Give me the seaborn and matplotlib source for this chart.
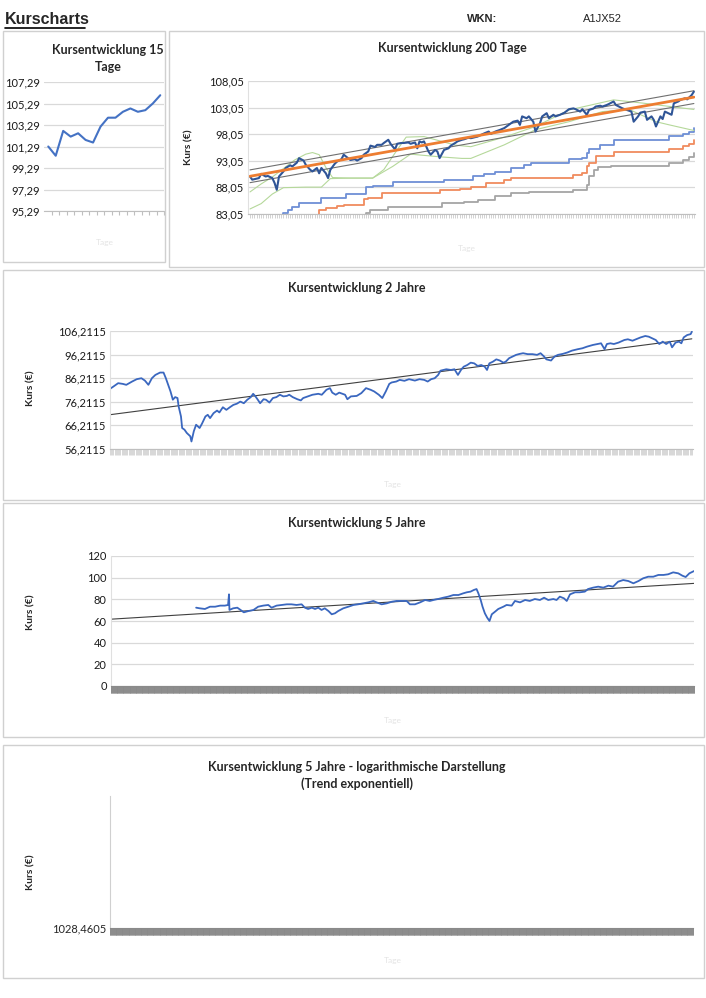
import numpy as np
import matplotlib
matplotlib.use("Agg")
import matplotlib.pyplot as plt
import seaborn as sns
from matplotlib.patches import Rectangle
from matplotlib.lines import Line2D
from matplotlib.ticker import NullLocator

# --- Daten ---
wkn = "A1JX52"

# 15 Tage
kurs15 = [101.29, 100.43, 102.74, 102.21, 102.52, 101.90, 101.66, 103.14,
          103.97, 103.97, 104.52, 104.83, 104.52, 104.67, 105.29, 106.06]
ticks15 = [95.29, 97.29, 99.29, 101.29, 103.29, 105.29, 107.29]

# 200 Tage
tage200 = [0, 1, 4, 5, 7, 8, 10, 11, 12, 13, 15, 16, 18, 19, 21, 22, 24, 25, 27, 28,
           30, 31, 32, 34, 35, 36, 38, 39, 41, 42, 44, 45, 47, 48, 50, 51, 53, 54, 56, 57,
           59, 60, 62, 63, 65, 66, 68, 69, 71, 72, 74, 75, 76, 77, 78, 80, 81, 83, 84, 85,
           87, 89, 90, 92, 93, 95, 96, 98,
           99, 102, 105, 107, 108, 110, 112, 114, 116, 118, 120, 121, 122, 124, 125, 127,
           128, 130, 131, 133, 134, 136, 137, 139, 141, 143, 145, 146, 148, 149, 151, 152,
           154, 155, 157, 158, 160, 161, 163, 164, 167, 169, 171, 172, 174, 175, 177, 178,
           180, 181, 182, 184, 185, 186, 187, 189, 190, 192, 193, 195, 196, 198, 199]
kurs200 = [90.1, 89.5, 89.8, 90.6, 90.1, 90.2, 89.8, 88.9, 87.6, 90.1,
           91.05, 91.7, 92.2, 92.0, 92.7, 93.55, 93.1, 92.3, 91.35, 91.05,
           91.7, 90.7, 91.7, 90.7, 89.8, 91.35, 92.5, 92.9, 93.35, 94.2,
           93.55, 93.2, 93.35, 93.1, 93.55, 94.2, 94.8, 95.9, 95.65, 96.05,
           96.05, 96.4, 97.0, 96.25, 95.2, 96.25, 96.4, 96.4, 96.5, 96.25,
           96.5, 95.4, 96.7, 96.5, 96.7, 94.8, 94.2, 95.1, 94.8, 93.55,
           95.1, 95.4, 95.9, 96.4, 96.7, 97.0, 97.1, 97.4,
           97.3, 97.6, 98.2, 98.55, 98.1, 98.55, 98.85, 99.2, 99.8, 100.4,
           100.6, 99.8, 101.4, 101.05, 101.4, 100.4, 98.55, 100.1, 101.4, 102.0,
           101.05, 101.7, 101.4, 101.7, 102.1, 102.75, 102.9, 102.75, 102.3, 102.75,
           101.7, 102.6, 102.9, 103.25, 103.4, 103.25, 103.55, 103.75, 104.2, 103.55,
           102.9, 102.6, 102.3, 100.4, 101.4, 102.1, 102.3, 100.75, 101.4, 100.75,
           99.5, 101.4, 100.9, 102.3, 102.1, 101.7, 103.85, 104.2, 104.5, 104.8,
           104.6, 105.4, 106.05]
kanal_abstand = 1.2

gruen_a_tage = [0, 5, 10, 15, 20, 25, 28, 31, 34, 37, 45, 55, 60, 65, 70, 78, 85, 92,
                99, 114, 128, 143, 163, 176, 199]
gruen_a = [87.2, 88.7, 90.0, 91.6, 93.2, 94.3, 94.6, 94.2, 91.8, 89.9, 89.8, 89.8, 91.4,
           94.5, 97.5, 97.6, 96.8, 96.0, 95.7, 97.5, 99.5, 102.6, 104.5, 103.9, 102.7]
gruen_b_tage = [0, 5, 10, 15, 25, 32, 36, 45, 55, 64, 72, 85, 95, 99, 114, 128, 143, 158,
                170, 182, 188, 199]
gruen_b = [84.0, 85.0, 86.8, 88.0, 88.1, 88.1, 89.7, 89.8, 89.8, 92.0, 94.3, 93.8, 93.5,
           93.5, 96.05, 98.9, 100.4, 102.3, 102.7, 100.4, 99.8, 98.75]

stop_blau_tage = [14, 15, 17, 19, 22, 32, 43, 52, 55, 64, 87, 100, 105, 110, 117, 123, 126,
                  143, 149, 151, 152, 157, 163, 188, 194, 197, 199]
stop_blau = [82.0, 83.3, 83.8, 84.4, 85.2, 86.1, 86.9, 88.2, 88.4, 89.1, 89.5, 90.1, 90.6,
             91.0, 91.7, 92.3, 92.6, 93.3, 93.6, 94.6, 95.2, 96.1, 97.05, 97.7, 98.0, 98.5,
             99.2]
stop_orange_tage = [30, 31, 34, 39, 42, 51, 53, 59, 85, 94, 99, 106, 114, 117, 145, 149,
                    151, 152, 155, 163, 188, 194, 197, 199]
stop_orange = [82.0, 83.8, 84.1, 84.6, 84.8, 85.8, 86.1, 87.0, 87.6, 87.8, 88.2, 88.85,
               89.5, 89.8, 90.4, 90.7, 92.0, 92.6, 93.9, 94.65, 95.3, 95.8, 96.3, 96.9]
stop_grau_tage = [51, 52, 54, 62, 86, 96, 102, 110, 117, 125, 145, 151, 152, 154, 156, 162,
                  188, 194, 197, 199]
stop_grau = [82.0, 83.2, 83.8, 84.4, 85.1, 85.3, 85.7, 86.5, 87.0, 87.2, 87.6, 88.5, 90.1,
             91.4, 91.8, 92.0, 92.6, 93.2, 93.8, 94.5]
ticks200 = [83.05, 88.05, 93.05, 98.05, 103.05, 108.05]

# 2 Jahre
tage2j = [0, 3, 7, 11, 14, 19, 23, 27, 30, 33, 36, 39, 43, 46, 48, 50, 52, 54, 56, 58,
          59, 61, 62, 64, 66, 69, 70, 72, 74, 77, 79, 82, 84, 86, 89, 92, 94, 97, 100, 103,
          106, 109, 112, 115, 118, 121, 123, 125, 127, 129, 132, 134, 137, 140, 143, 146,
          149, 152, 154, 157, 161, 164, 166, 170, 174, 179, 182, 186, 189, 191, 194, 197,
          202, 204, 207, 212, 216, 220, 224, 227, 231, 234, 237, 240, 242, 246,
          249, 253, 257, 262, 266, 270, 273, 276, 279, 282, 284, 289, 293, 296, 299, 302,
          304, 307, 310, 313, 316, 319, 322, 324, 326, 329, 332, 335, 338, 340, 343, 346,
          349, 352, 355, 359, 363, 367, 370, 373, 375, 379, 382, 385, 389, 393, 397, 402,
          406, 410, 415, 419, 422, 425, 427, 430, 433, 437, 442, 445, 449, 452, 456, 460,
          463, 466, 469, 472, 475, 478, 481, 483, 486, 489, 491, 493, 496, 499, 500]
kurs2j = [81.7, 82.7, 84.1, 83.8, 83.4, 84.8, 85.8, 86.2, 85.2, 83.4,
          86.2, 87.6, 88.6, 88.6, 86.2, 83.4, 80.6, 77.1, 78.2, 77.8,
          74.2, 70.0, 65.1, 64.4, 63.0, 61.6, 59.4, 63.7, 66.5, 65.1,
          66.9, 70.0, 70.7, 69.3, 71.4, 72.5, 71.7, 73.9, 72.8, 73.9,
          74.9, 75.4, 76.3, 75.6, 77.1, 78.2, 79.6, 78.5, 77.1, 75.6,
          77.3, 77.1, 75.9, 77.8, 78.2, 79.2, 78.5, 78.7, 79.2, 78.2,
          77.3, 76.8, 77.8, 78.5, 79.2, 79.6, 79.2, 81.3, 82.0, 80.1,
          79.2, 80.1, 79.2, 77.3, 78.5, 78.7, 79.9, 82.0, 81.3, 80.6,
          79.2, 77.8, 80.6, 83.8, 84.4, 84.8,
          85.5, 85.1, 85.8, 85.2, 85.8, 85.5, 84.8, 85.8, 86.2, 87.6,
          89.4, 90.0, 89.7, 90.0, 87.6, 90.0, 91.1, 91.8, 92.8, 92.5,
          91.4, 91.8, 91.1, 89.7, 92.5, 93.2, 94.2, 93.7, 92.8, 93.2,
          94.7, 95.4, 96.1, 96.5, 96.8, 96.4, 96.4, 96.1, 96.8, 95.4,
          94.2, 93.7, 95.4, 96.1, 96.5, 97.1, 97.9, 98.5, 98.9, 99.6,
          100.3, 100.7, 101.0, 98.5, 100.7, 101.0, 100.7, 101.3, 102.4, 102.7,
          102.1, 102.7, 103.5, 104.1, 103.8, 103.1, 102.4, 100.7, 101.7, 100.7,
          101.7, 99.3, 101.3, 101.7, 101.0, 103.5, 104.5, 104.9, 105.9]
ticks2j = [56.2115, 66.2115, 76.2115, 86.2115, 96.2115, 106.2115]

# 5 Jahre
tage5j = [184, 192, 203, 214, 225, 236, 246, 253, 255, 256, 264, 273, 280, 287, 297, 308,
          318, 329, 340, 347, 358, 369, 380, 390, 401, 412, 419, 426, 434, 441, 448, 455,
          462, 470, 477, 484, 491, 502, 513, 524, 534, 545, 556, 567, 574, 585, 596, 607,
          617,
          625, 639, 646, 657, 668, 679, 689, 697, 707, 718, 729, 740, 751, 761, 769, 777,
          784, 790, 794, 799, 803, 808, 813, 818, 823, 830, 837, 848, 855, 866, 873, 884,
          895, 905, 916, 927, 936, 945, 956, 963, 970, 979, 985, 992, 1003, 1013, 1024,
          1031, 1042, 1053, 1064, 1075, 1085, 1096, 1107, 1118, 1129, 1140, 1150, 1161,
          1172, 1183, 1194, 1204, 1215, 1226, 1235, 1242, 1250, 1260]
kurs5j = [72.3, 71.7, 71.1, 73.2, 73.2, 74.2, 74.2, 74.8, 84.6, 70.2,
          71.7, 72.3, 70.2, 68.0, 69.2, 70.2, 73.2, 74.2, 74.8, 72.3,
          74.2, 74.8, 75.4, 75.4, 74.8, 75.4, 72.3, 71.1, 72.3, 71.1,
          72.3, 70.2, 71.7, 69.2, 66.2, 67.1, 69.2, 71.7, 73.2, 74.8,
          75.4, 76.3, 77.2, 78.5, 77.2, 75.4, 76.3, 77.8, 78.5,
          78.5, 78.5, 75.4, 75.4, 77.2, 79.4, 78.5, 79.4, 80.3, 81.5,
          82.5, 84.0, 84.0, 85.5, 86.5, 87.1, 88.6, 89.5, 85.5, 79.4,
          73.2, 67.1, 63.1, 60.0, 66.2, 68.6, 71.1, 73.2, 74.8, 74.2,
          78.5, 77.2, 79.4, 78.5, 80.3, 79.4, 81.5, 79.4, 80.3, 79.4,
          82.5, 80.9, 78.5, 84.6, 86.5, 86.5, 87.1, 89.5, 90.8, 91.7,
          90.8, 92.6, 91.7, 96.3, 97.8, 96.9, 94.8, 96.9, 99.4, 100.9,
          100.9, 102.5, 102.5, 103.1, 104.9, 104.0, 101.8, 100.6, 104.0, 106.1]
tage5j_max = 1260
ticks5j = [0, 20, 40, 60, 80, 100, 120]

# logarithmisch (leer)
log_tick = 1028.4605

# --- Layout ---
W, H = 706, 998
sns.set_style("white")
plt.rcParams['font.family'] = ['Lato', 'DejaVu Sans']

fig = plt.figure(figsize=(W / 100, H / 100), dpi=100)

GRID = '#D9D9D9'
BLAU = '#3A67BF'


def px_axes(x0, y0, x1, y1):
    return fig.add_axes([x0 / W, 1 - y1 / H, (x1 - x0) / W, (y1 - y0) / H])


def px_text(x, y, s, **kw):
    return fig.text(x / W, 1 - y / H, s, **kw)


def rahmen(x0, y0, x1, y1):
    fig.add_artist(Rectangle((x0 / W, 1 - y1 / H), (x1 - x0) / W, (y1 - y0) / H,
                             transform=fig.transFigure, fill=False,
                             ec='#D0D0D0', lw=1.0))


def komma(v, nd):
    return f"{v:.{nd}f}".replace('.', ',')


def stil(ax, yticks, nd, ylim):
    ax.set_ylim(*ylim)
    ax.set_yticks(yticks)
    ax.set_yticklabels([komma(v, nd) for v in yticks])
    ax.yaxis.set_minor_locator(NullLocator())
    ax.grid(axis='y', color=GRID, lw=0.9)
    ax.grid(axis='x', visible=False)
    ax.set_axisbelow(True)
    for s in ['top', 'right']:
        ax.spines[s].set_visible(False)
    ax.spines['left'].set_color('#E0E0E0')
    ax.spines['bottom'].set_color('#BFBFBF')
    ax.tick_params(axis='y', length=0, labelsize=8, pad=3, colors='#1A1A1A')
    ax.set_xticks([])
    ax.set_xlabel('')
    ax.set_ylabel('')


def dichte_ticks(ax, pos, laenge, farbe, breite):
    # Excel-Kategorieachse: ein Strich pro Tag
    ax.set_xticks(pos, minor=True)
    ax.tick_params(axis='x', which='minor', bottom=True, direction='out',
                   length=laenge, color=farbe, width=breite)


def tage_label(x, y):
    px_text(x, y, 'Tage', fontsize=6, color='#E4E4E4', ha='center', va='center')


def kurs_label(x, y):
    px_text(x, y, 'Kurs (€)', fontsize=7.5, fontweight='bold', rotation=90,
            ha='center', va='center')


# Kopfzeile
px_text(5, 19, 'Kurscharts', fontsize=11.5, fontweight='bold',
        family=['Liberation Sans', 'DejaVu Sans'], va='center')
fig.add_artist(Line2D([5 / W, 85 / W], [1 - 27.5 / H, 1 - 27.5 / H],
                      transform=fig.transFigure, color='black', lw=1.2))
px_text(467, 19, 'WKN:', fontsize=8, fontweight='bold',
        family=['Liberation Sans', 'DejaVu Sans'], va='center')
px_text(583, 19, wkn, fontsize=8,
        family=['Liberation Sans', 'DejaVu Sans'], va='center')

# Rahmen
rahmen(3, 31, 165, 262)
rahmen(169, 31, 704, 267)
rahmen(3, 270, 704, 500)
rahmen(3, 503, 704, 737)
rahmen(3, 745, 704, 978)

# --- 15 Tage ---
ax1 = px_axes(44, 82, 164, 211)
x15 = np.arange(len(kurs15))
sns.lineplot(x=x15, y=kurs15, ax=ax1, color='#4472C4', lw=1.5)
stil(ax1, ticks15, 2, (ticks15[0], ticks15[-1]))
ax1.set_xlim(-0.57, len(kurs15) - 1 + 0.3)
dichte_ticks(ax1, np.arange(0.5, len(kurs15)), 3, '#BFBFBF', 0.8)
ax1.spines['left'].set_visible(False)
px_text(108, 50, 'Kursentwicklung 15', fontsize=9, fontweight='bold', ha='center', va='center')
px_text(108, 67, 'Tage', fontsize=9, fontweight='bold', ha='center', va='center')
tage_label(105, 243)

# --- 200 Tage ---
ax2 = px_axes(248, 81, 695, 214)
sns.lineplot(x=stop_grau_tage, y=stop_grau, ax=ax2, color='#A5A5A5', lw=1.3,
             drawstyle='steps-post')
sns.lineplot(x=stop_orange_tage, y=stop_orange, ax=ax2, color='#F08B5E', lw=1.3,
             drawstyle='steps-post')
sns.lineplot(x=stop_blau_tage, y=stop_blau, ax=ax2, color='#6E8FD6', lw=1.3,
             drawstyle='steps-post')
sns.lineplot(x=gruen_a_tage, y=gruen_a, ax=ax2, color='#B5D89A', lw=0.8)
sns.lineplot(x=gruen_b_tage, y=gruen_b, ax=ax2, color='#B5D89A', lw=0.8)
steig, achse = np.polyfit(tage200, kurs200, 1)
tt = np.array([0, tage200[-1]])
trend = achse + steig * tt
sns.lineplot(x=tt, y=trend + kanal_abstand, ax=ax2, color='#6F6F6F', lw=0.8)
sns.lineplot(x=tt, y=trend - kanal_abstand, ax=ax2, color='#6F6F6F', lw=0.8)
sns.lineplot(x=tage200, y=kurs200, ax=ax2, color='#2F5597', lw=1.5)
sns.lineplot(x=tt, y=trend, ax=ax2, color='#ED7D31', lw=2.0)
stil(ax2, ticks200, 2, (ticks200[0], ticks200[-1]))
ax2.set_xlim(-0.9, 199.5)
dichte_ticks(ax2, np.arange(0, 200), 3, '#C0C0C0', 0.5)
px_text(452, 48, 'Kursentwicklung 200 Tage', fontsize=9, fontweight='bold',
        ha='center', va='center')
kurs_label(189, 147)
tage_label(467, 248)

# --- 2 Jahre ---
ax3 = px_axes(110, 331, 693, 449)
sns.regplot(x=tage2j, y=kurs2j, ax=ax3, scatter=False, ci=None, truncate=True,
            line_kws=dict(color='#404040', lw=0.8))
sns.lineplot(x=tage2j, y=kurs2j, ax=ax3, color=BLAU, lw=1.3)
stil(ax3, ticks2j, 4, (ticks2j[0], ticks2j[-1]))
ax3.set_xlim(0, tage2j[-1] + 1)
dichte_ticks(ax3, np.arange(0, tage2j[-1] + 1), 4, '#C8C8C8', 0.5)
px_text(357, 288, 'Kursentwicklung 2 Jahre', fontsize=9, fontweight='bold',
        ha='center', va='center')
kurs_label(31, 388)
tage_label(393, 485)

# --- 5 Jahre ---
ax4 = px_axes(111, 556, 694, 686)
ax4.set_xlim(0, tage5j_max)
sns.regplot(x=tage5j, y=kurs5j, ax=ax4, scatter=False, ci=None, truncate=False,
            line_kws=dict(color='#404040', lw=0.8))
sns.lineplot(x=tage5j, y=kurs5j, ax=ax4, color=BLAU, lw=1.3)
stil(ax4, ticks5j, 0, (ticks5j[0], ticks5j[-1]))
ax4.set_xlim(0, tage5j_max)
dichte_ticks(ax4, np.arange(0, tage5j_max + 1), 5, '#8A8A8A', 0.6)
ax4.spines['bottom'].set_color('#8A8A8A')
px_text(357, 523, 'Kursentwicklung 5 Jahre', fontsize=9, fontweight='bold',
        ha='center', va='center')
kurs_label(31, 612)
tage_label(393, 720)

# --- 5 Jahre logarithmisch (ohne Daten) ---
ax5 = px_axes(110, 796, 693, 928)
ax5.set_yscale('log')
ax5.set_ylim(log_tick, log_tick * 10)
ax5.set_yticks([log_tick])
ax5.set_yticklabels([komma(log_tick, 4)])
ax5.yaxis.set_minor_locator(NullLocator())
for s in ['top', 'right']:
    ax5.spines[s].set_visible(False)
ax5.spines['left'].set_color('#D0D0D0')
ax5.spines['bottom'].set_color('#8A8A8A')
ax5.tick_params(axis='y', length=0, labelsize=8, pad=3)
ax5.set_xlim(0, tage5j_max)
ax5.set_xticks([])
dichte_ticks(ax5, np.arange(0, tage5j_max + 1), 5, '#8A8A8A', 0.6)
px_text(357, 767, 'Kursentwicklung 5 Jahre - logarithmische Darstellung', fontsize=9,
        fontweight='bold', ha='center', va='center')
px_text(357, 784, '(Trend exponentiell)', fontsize=9, fontweight='bold',
        ha='center', va='center')
kurs_label(31, 872)
tage_label(393, 960)

fig.savefig('out.png', dpi=100)
